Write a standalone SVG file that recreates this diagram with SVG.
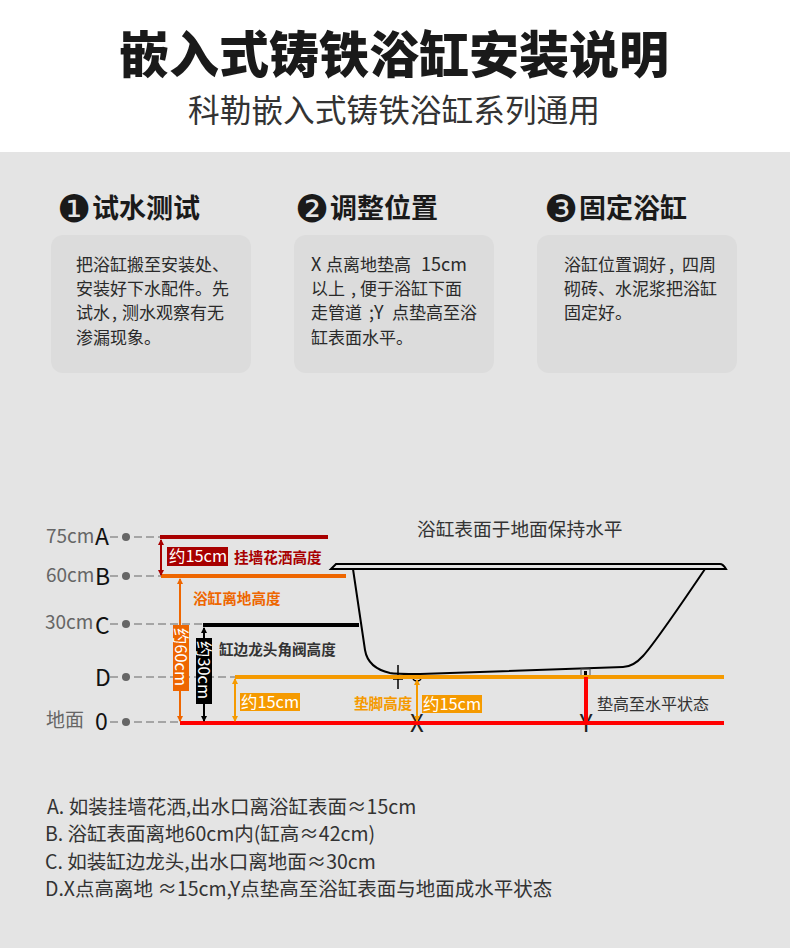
<svg xmlns="http://www.w3.org/2000/svg" width="790" height="948" viewBox="0 0 790 948">
<style>
text{font-family:"Noto Sans CJK SC","Noto Sans",sans-serif}
.h{font-size:27px;font-weight:700;fill:#1a1a1a}
.n{font-size:38px;font-family:"DejaVu Sans",sans-serif;fill:#1a1a1a}
.b{font-size:17px;fill:#2a2a2a}
.l{font-size:18px}
.card{fill:#dcdcdc}
.lv{font-size:19px;fill:#666}
.lt{font-size:23px;fill:#111}
.dash{stroke:#666;stroke-width:1;stroke-dasharray:8 4;fill:none}
.dot{fill:#666}
.tag{font-size:16.4px;fill:#fff}
.s{font-size:14.6px;font-weight:700}
.foot{font-size:19.5px;fill:#333}
</style>
<defs>
<marker id="mr" markerWidth="6" markerHeight="6" refX="5" refY="3" orient="auto-start-reverse" markerUnits="userSpaceOnUse"><path d="M0,0L6,3L0,6Z" fill="#a80000"/></marker>
<marker id="mo" markerWidth="6" markerHeight="6" refX="5" refY="3" orient="auto-start-reverse" markerUnits="userSpaceOnUse"><path d="M0,0L6,3L0,6Z" fill="#ee6600"/></marker>
<marker id="mk" markerWidth="6" markerHeight="6" refX="5" refY="3" orient="auto-start-reverse" markerUnits="userSpaceOnUse"><path d="M0,0L6,3L0,6Z" fill="#000"/></marker>
<marker id="ma" markerWidth="6" markerHeight="6" refX="5" refY="3" orient="auto-start-reverse" markerUnits="userSpaceOnUse"><path d="M0,0L6,3L0,6Z" fill="#f59a00"/></marker>
</defs>
<rect width="790" height="948" fill="#fff"/>
<rect y="152" width="790" height="796" fill="#e4e4e4"/>
<g id="title">
<text x="394" y="73" text-anchor="middle" font-size="50" font-weight="900" fill="#1a1a1a">嵌入式铸铁浴缸安装说明</text>
<text x="394" y="122" text-anchor="middle" font-size="31.7" fill="#333">科勒嵌入式铸铁浴缸系列通用</text>
</g>
<g id="step1">
<text class="n" x="57" y="222">❶</text>
<text class="h" x="92" y="218">试水测试</text>
<rect class="card" x="51" y="235" width="200" height="138" rx="12"/>
<text class="b"><tspan x="76" y="271">把浴缸搬至安装处、</tspan><tspan x="76" y="295">安装好下水配件。先</tspan><tspan x="76" y="319">试水</tspan><tspan x="112" y="319" class="l">,</tspan><tspan x="122" y="319">测水观察有无</tspan><tspan x="76" y="344">渗漏现象。</tspan></text>
</g>
<g id="step2">
<text class="n" x="295" y="222">❷</text>
<text class="h" x="330" y="218">调整位置</text>
<rect class="card" x="294" y="235" width="200" height="138" rx="12"/>
<text class="b"><tspan x="311" y="271" class="l">X</tspan><tspan x="326" y="271">点离地垫高</tspan><tspan x="421" y="271" class="l">15cm</tspan><tspan x="311" y="295">以上</tspan><tspan x="351" y="295" class="l">,</tspan><tspan x="360" y="295">便于浴缸下面</tspan><tspan x="311" y="319">走管道</tspan><tspan x="369" y="319" class="l">;Y</tspan><tspan x="392" y="319">点垫高至浴</tspan><tspan x="311" y="344">缸表面水平。</tspan></text>
</g>
<g id="step3">
<text class="n" x="544" y="222">❸</text>
<text class="h" x="579" y="218">固定浴缸</text>
<rect class="card" x="537" y="235" width="200" height="138" rx="12"/>
<text class="b"><tspan x="564" y="271">浴缸位置调好</tspan><tspan x="669" y="271" class="l">,</tspan><tspan x="682" y="271">四周</tspan><tspan x="564" y="295">砌砖、水泥浆把浴缸</tspan><tspan x="564" y="319">固定好。</tspan></text>
</g>
<g id="levels">
<text class="lv" x="46" y="543">75cm</text><text class="lt" x="95" y="545">A</text>
<text class="lv" x="46" y="582">60cm</text><text class="lt" x="95" y="585">B</text>
<text class="lv" x="45" y="629">30cm</text><text class="lt" x="95" y="634">C</text>
<text class="lt" x="95" y="686">D</text>
<text class="lv" x="46" y="727">地面</text><text class="lt" x="95" y="730">0</text>
<path class="dash" d="M110,537H160M110,576H161M110,624H203M110,677H235M110,722H180"/>
<circle class="dot" cx="126" cy="537" r="4"/><circle class="dot" cx="126" cy="576" r="4"/><circle class="dot" cx="126" cy="624" r="4"/><circle class="dot" cx="126" cy="677" r="4"/><circle class="dot" cx="126" cy="722" r="4"/>
</g>
<g id="bathtub" fill="none" stroke="#000" stroke-width="2">
<path d="M331,569L336,564H720Q723,564 726,569Z"/>
<path d="M353,569L365,650Q368,668 390,673Q395,674 420,674L623,667Q633,667 643,656Q655,643 705,569"/>
<path d="M398,665V689M393,679H403" stroke-width="1.5"/>
<path d="M413,678a4,3 0 0 0 8,0" stroke-width="1.5"/>
<rect x="581" y="669" width="9" height="7" stroke-width="1" stroke="#555"/>
<rect x="584" y="671" width="3" height="5" fill="#000" stroke="none"/>
</g>
<g id="connectors" fill="none">
<text x="417" y="732" text-anchor="middle" font-size="24" fill="#222">X</text>
<text x="586" y="732" text-anchor="middle" font-size="24" fill="#222">Y</text>
<path d="M160,537H328" stroke="#a80000" stroke-width="4"/>
<path d="M161,576H346" stroke="#ee6600" stroke-width="4"/>
<path d="M203,625H359" stroke="#000" stroke-width="4"/>
<path d="M235,677H724" stroke="#f59a00" stroke-width="4"/>
<path d="M180,723H724" stroke="#f00" stroke-width="4"/>
<path d="M586,677V723" stroke="#f00" stroke-width="4"/>
<path d="M161,540V575" stroke="#a80000" stroke-width="2" marker-start="url(#mr)" marker-end="url(#mr)"/>
<path d="M180,579V721" stroke="#ee6600" stroke-width="2" marker-start="url(#mo)" marker-end="url(#mo)"/>
<path d="M204,628V721" stroke="#000" stroke-width="2" marker-start="url(#mk)" marker-end="url(#mk)"/>
<path d="M235,679V721" stroke="#f59a00" stroke-width="2" marker-start="url(#ma)" marker-end="url(#ma)"/>
<path d="M417,680V721" stroke="#f59a00" stroke-width="2" marker-start="url(#ma)" marker-end="url(#ma)"/>
</g>
<g id="labels">
<text x="417" y="536" font-size="18.7" fill="#333">浴缸表面于地面保持水平</text>
<rect x="167" y="547" width="61" height="19" fill="#a80000"/>
<text class="tag" x="169" y="562">约15cm</text>
<text class="s" x="234" y="563" fill="#a80000">挂墙花洒高度</text>
<text class="s" x="193" y="604" fill="#ee6600">浴缸离地高度</text>
<text class="s" x="219" y="655" fill="#333">缸边龙头角阀高度</text>
<rect x="173" y="625" width="16" height="66" fill="#ee6600"/>
<text class="tag" transform="translate(175,628) rotate(90)">约60cm</text>
<rect x="196" y="638" width="16" height="66" fill="#000"/>
<text class="tag" transform="translate(198,641) rotate(90)">约30cm</text>
<rect x="240" y="693" width="60" height="18" fill="#f59a00"/>
<text class="tag" x="241" y="708">约15cm</text>
<text class="s" x="354" y="709" fill="#f59a00">垫脚高度</text>
<rect x="422" y="695" width="60" height="18" fill="#f59a00"/>
<text class="tag" x="423" y="710">约15cm</text>
<text x="597" y="710" font-size="16" fill="#333">垫高至水平状态</text>
</g>
<g id="notes">
<text class="foot" x="47" y="814">A. 如装挂墙花洒,出水口离浴缸表面≈15cm</text>
<text class="foot" x="45" y="841">B. 浴缸表面离地60cm内(缸高≈42cm)</text>
<text class="foot" x="45" y="869">C. 如装缸边龙头,出水口离地面≈30cm</text>
<text class="foot" x="45" y="896">D.X点高离地 ≈15cm,Y点垫高至浴缸表面与地面成水平状态</text>
</g>
</svg>
